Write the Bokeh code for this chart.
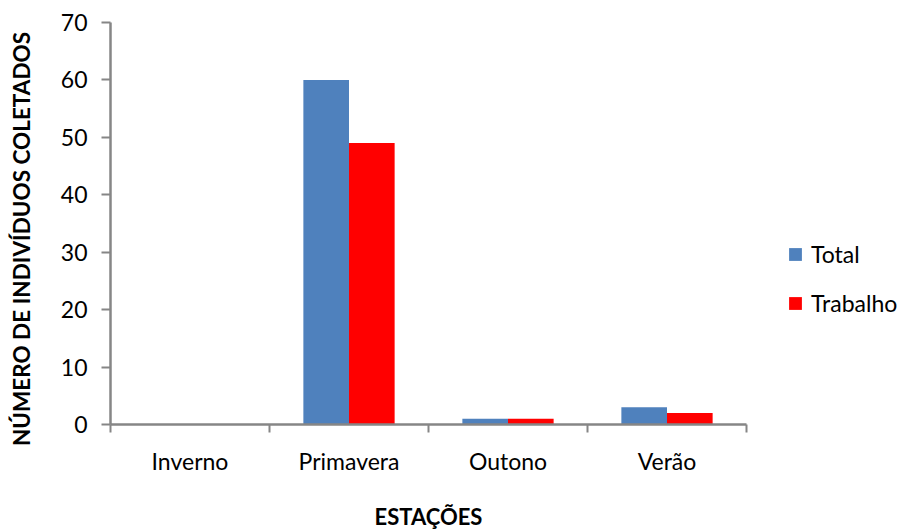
from bokeh.plotting import figure
from bokeh.models import (ColumnDataSource, Range1d, FixedTicker, Legend, LegendItem,
                          LinearAxis)
from bokeh.transform import dodge
from bokeh.embed import file_html
from bokeh.resources import INLINE
import numpy as np

categories = ["Inverno", "Primavera", "Outono", "Verão"]
total = [0, 60, 1, 3]
trabalho = [0, 49, 1, 2]
y_ticks = [0, 10, 20, 30, 40, 50, 60, 70]
x_title = "ESTAÇÕES"
y_title = "NÚMERO DE INDIVÍDUOS COLETADOS"

FONT = "Lato"
GRAY = "#868686"
BLUE = "#4F81BD"
RED = "#FF0000"

n = len(categories)
centers = list(np.arange(n) + 0.5)
bounds = list(np.arange(n + 1).astype(float))

src = ColumnDataSource(dict(x=centers, total=total, trabalho=trabalho))

# frame spans 110..908 px; axis covers the first 636 px (categories 0..n)
AXIS_PX, FRAME_PX = 636, 798
p = figure(width=908, height=532, output_backend="svg", toolbar_location=None,
           x_range=Range1d(0, n * FRAME_PX / AXIS_PX),
           y_range=Range1d(y_ticks[0], y_ticks[-1]))
p.min_border_left = 110
p.min_border_top = 22
p.min_border_bottom = 107
p.min_border_right = 0
p.outline_line_color = None
p.xgrid.visible = False
p.ygrid.visible = False

bw = 0.287
r1 = p.vbar(x=dodge("x", -bw / 2), top="total", width=bw, source=src,
            fill_color=BLUE, line_color=None)
r2 = p.vbar(x=dodge("x", bw / 2), top="trabalho", width=bw, source=src,
            fill_color=RED, line_color=None)

# x axis
xa = p.xaxis[0]
xa.bounds = (0, n)
xa.ticker = FixedTicker(ticks=centers, minor_ticks=bounds)
xa.major_label_overrides = {c: nm for c, nm in zip(centers, categories)}
xa.major_tick_line_color = None
xa.major_tick_out = 0
xa.major_tick_in = 0
xa.minor_tick_out = 8
xa.minor_tick_in = 0
xa.minor_tick_line_color = GRAY
xa.minor_tick_line_width = 2
xa.axis_line_color = GRAY
xa.axis_line_width = 2.5
xa.major_label_standoff = 14
xa.major_label_text_font = FONT
xa.major_label_text_font_size = "23px"
xa.major_label_text_color = "black"

# x title: centred under the category axis (not under the whole frame)
x_mid = n / 2
xt = LinearAxis(ticker=FixedTicker(ticks=[x_mid], minor_ticks=[]),
                major_label_overrides={x_mid: x_title},
                axis_line_color=None, major_tick_line_color=None,
                minor_tick_line_color=None, major_tick_out=0, minor_tick_out=0,
                major_tick_in=0, minor_tick_in=0,
                major_label_standoff=25,
                major_label_text_font=FONT, major_label_text_font_style="bold",
                major_label_text_font_size="22px", major_label_text_color="black")
p.add_layout(xt, "below")

# y axis
ya = p.yaxis[0]
ya.ticker = FixedTicker(ticks=y_ticks)
ya.major_tick_out = 9
ya.major_tick_in = 0
ya.major_tick_line_color = GRAY
ya.major_tick_line_width = 2
ya.minor_tick_line_color = None
ya.axis_line_color = GRAY
ya.axis_line_width = 2.5
ya.major_label_standoff = 14
ya.major_label_text_font = FONT
ya.major_label_text_font_size = "23px"
ya.major_label_text_color = "black"

# y title, placed as the sole (rotated) label of a second left axis
y_mid = 32.3
yt = LinearAxis(ticker=FixedTicker(ticks=[y_mid], minor_ticks=[]),
                major_label_overrides={y_mid: y_title},
                major_label_orientation="vertical",
                axis_line_color=None, major_tick_line_color=None,
                minor_tick_line_color=None, major_tick_out=0, minor_tick_out=0,
                major_tick_in=0, minor_tick_in=0,
                major_label_standoff=22,
                major_label_text_font=FONT, major_label_text_font_style="bold",
                major_label_text_font_size="22.5px", major_label_text_color="black")
p.add_layout(yt, "left")

legend = Legend(items=[LegendItem(label="Total", renderers=[r1]),
                       LegendItem(label="Trabalho", renderers=[r2])],
                location=(677, 107), orientation="vertical",
                border_line_color=None, background_fill_color=None,
                label_text_font=FONT, label_text_font_size="23px",
                label_text_color="black",
                glyph_width=16, glyph_height=16, label_standoff=8,
                spacing=21, padding=0, margin=0)
p.add_layout(legend, "center")

open("out.html", "w").write(file_html(p, INLINE))
